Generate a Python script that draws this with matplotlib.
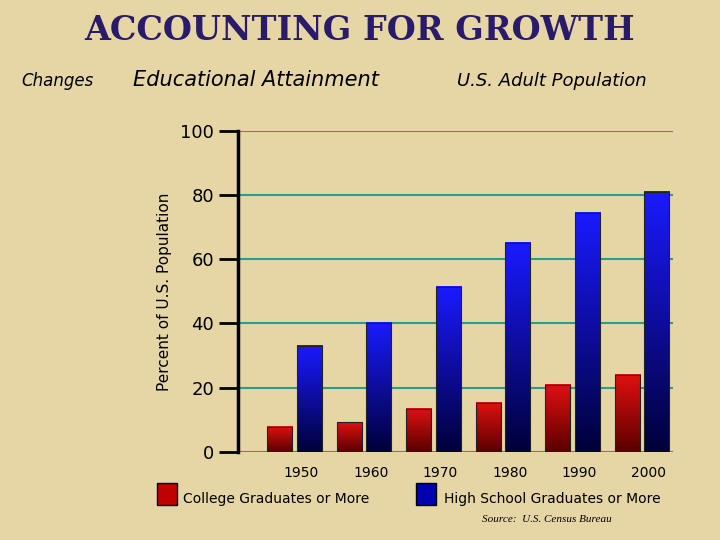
import matplotlib.pyplot as plt
import numpy as np
from matplotlib.colors import LinearSegmentedColormap

years = ["1950", "1960", "1970", "1980", "1990", "2000"]
college = [7.8, 9.2, 13.4, 15.3, 20.9, 24.0]
high_school = [33.0, 40.2, 51.4, 65.1, 74.5, 81.0]

fig = plt.figure(figsize=(7.2, 5.4), dpi=100)
fig.patch.set_facecolor("#e6d6a6")
ax = fig.add_axes([0.33, 0.163, 0.605, 0.595])
ax.set_facecolor("none")

red = LinearSegmentedColormap.from_list("r", ["#5a0000", "#e01010"])
blue = LinearSegmentedColormap.from_list("b", ["#00003a", "#1a1aff"])
grad = np.linspace(0, 1, 100).reshape(-1, 1)

x = np.arange(len(years))
w = 0.36
for xi, c, h in zip(x, college, high_school):
    for left, val, cm in [(xi - w - 0.03, c, red), (xi + 0.03, h, blue)]:
        ax.imshow(grad, cmap=cm, extent=[left, left + w, 0, val], origin="lower",
                  aspect="auto", zorder=3)
        ax.bar(left, val, width=w, align="edge", fill=False, edgecolor="#222222",
               linewidth=0.8, zorder=4)

ax.set_xlim(-0.82, 5.45)
ax.set_ylim(0, 100)
ax.set_yticks([0, 20, 40, 60, 80, 100])
ax.yaxis.grid(True, color="#2e9c8c", linewidth=1.5, zorder=1)
ax.set_axisbelow(True)
ax.tick_params(axis="y", length=14, width=2, color="black", labelsize=13, pad=3)
ax.set_xticks(x + 0.1)
ax.set_xticklabels(years, fontsize=10)
ax.tick_params(axis="x", length=0, pad=10)
for s in ["top", "right", "bottom"]:
    ax.spines[s].set_visible(False)
ax.spines["left"].set_linewidth(2.5)
ax.set_ylabel("Percent of U.S. Population", fontsize=11, labelpad=6)

fig.text(0.5, 0.925, "ACCOUNTING FOR GROWTH", ha="center", fontsize=24,
         color="#2a1a6a", fontweight="bold", family="DejaVu Serif")
fig.text(0.03, 0.84, "Changes", fontsize=12, style="italic")
fig.text(0.185, 0.84, "Educational Attainment", fontsize=15, style="italic")
fig.text(0.635, 0.84, "U.S. Adult Population", fontsize=13, style="italic")

fig.patches.append(plt.Rectangle((0.218, 0.065), 0.028, 0.04, transform=fig.transFigure,
                                 facecolor="#c00000", edgecolor="black", figure=fig))
fig.text(0.254, 0.068, "College Graduates or More", fontsize=10)
fig.patches.append(plt.Rectangle((0.578, 0.065), 0.028, 0.04, transform=fig.transFigure,
                                 facecolor="#0000b0", edgecolor="black", figure=fig))
fig.text(0.616, 0.068, "High School Graduates or More", fontsize=10)
fig.text(0.67, 0.033, "Source:  U.S. Census Bureau", fontsize=8, style="italic",
         family="Liberation Serif")

fig.savefig("out.png", dpi=100, facecolor=fig.get_facecolor())
